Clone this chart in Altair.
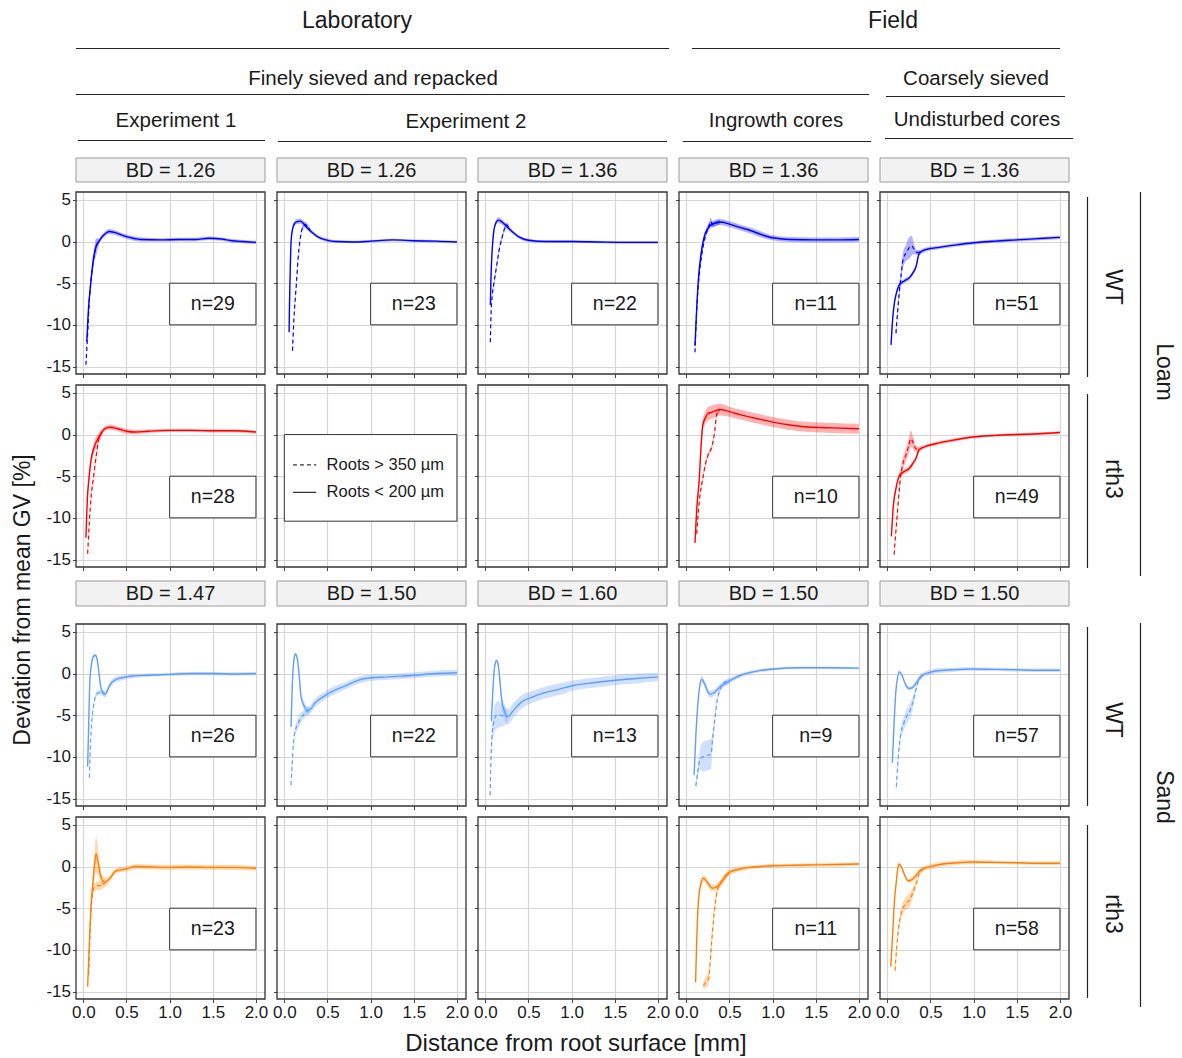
import altair as alt
import pandas as pd

FONT = "Liberation Sans"
INK = "#1a1a1a"
FRAME = "#333333"
GRID = "#d6d6d6"

# ------------------------------------------------------------------ data
X_TICKS = [0.0, 0.5, 1.0, 1.5, 2.0]
Y_TICKS = [-15, -10, -5, 0, 5]
X_DOMAIN = [-0.085, 2.105]
Y_DOMAIN = [-15.9, 5.95]

ROW_COLORS = ["#0000FF", "#FF0000", "#619CFF", "#FF8000"]
BD_TOP = ["BD = 1.26", "BD = 1.26", "BD = 1.36", "BD = 1.36", "BD = 1.36"]
BD_BOTTOM = ["BD = 1.47", "BD = 1.50", "BD = 1.60", "BD = 1.50", "BD = 1.50"]
N_VALUES = [[29, 23, 22, 11, 51],
            [28, None, None, 10, 49],
            [26, 22, 13, 9, 57],
            [23, None, None, 11, 58]]

HEADER_TEXTS = ["Laboratory", "Field", "Finely sieved and repacked", "Coarsely sieved",
                "Experiment 1", "Experiment 2", "Ingrowth cores", "Undisturbed cores"]
ROW_LABELS = ["WT", "rth3", "WT", "rth3"]
SOIL_LABELS = ["Loam", "Sand"]
LEGEND_LABELS = ["Roots > 350 \u00b5m", "Roots < 200 \u00b5m"]
X_TITLE = "Distance from root surface [mm]"
Y_TITLE = "Deviation from mean GV [%]"

# s* = roots < 200 um (solid), d* = roots > 350 um (dashed); e = half width of band
LOAM_WT_EXP1 = dict(
    sx=[0.04, 0.06, 0.086, 0.117, 0.15, 0.18, 0.22, 0.26, 0.30, 0.36, 0.48, 0.67, 0.90, 1.10, 1.30, 1.45, 1.60, 1.72, 1.85, 2.00],
    sy=[-12.0, -8.0, -5.0, -2.1, -0.5, 0.0, 0.6, 1.0, 1.2, 1.1, 0.65, 0.25, 0.2, 0.25, 0.25, 0.4, 0.3, 0.1, 0.0, -0.1],
    se=[0.4, 0.4, 0.4, 0.35, 0.3, 0.3, 0.3, 0.3, 0.3, 0.3, 0.25, 0.25, 0.2, 0.2, 0.2, 0.2, 0.2, 0.2, 0.2, 0.2],
    dx=[0.03, 0.05, 0.07, 0.09, 0.12, 0.15, 0.18],
    dy=[-14.8, -11.0, -7.0, -4.5, -2.0, -0.6, 0.0],
    de=[0.3, 0.4, 0.5, 0.6, 0.8, 1.0, 0.4])
LOAM_WT_EXP2A = dict(
    sx=[0.055, 0.06, 0.068, 0.078, 0.095, 0.12, 0.15, 0.187, 0.22, 0.26, 0.30, 0.40, 0.50, 0.60, 0.80, 1.00, 1.25, 1.50, 1.75, 2.00],
    sy=[-10.9, -7.5, -3.5, 0.0, 1.5, 2.2, 2.4, 2.45, 2.2, 1.7, 1.3, 0.5, 0.15, 0.0, -0.05, 0.05, 0.2, 0.1, 0.05, -0.05],
    se=[0.3, 0.3, 0.3, 0.3, 0.3, 0.3, 0.3, 0.3, 0.3, 0.25, 0.25, 0.2, 0.2, 0.15, 0.15, 0.15, 0.15, 0.15, 0.15, 0.15],
    dx=[0.094, 0.11, 0.14, 0.16, 0.18, 0.207, 0.246, 0.27, 0.30],
    dy=[-13.1, -9.5, -5.0, -2.0, 0.0, 1.55, 2.04, 1.8, 1.3],
    de=[0.3, 0.3, 0.3, 0.3, 0.3, 0.3, 0.3, 0.3, 0.25])
LOAM_WT_EXP2B = dict(
    sx=[0.058, 0.065, 0.075, 0.086, 0.10, 0.12, 0.149, 0.18, 0.22, 0.26, 0.30, 0.40, 0.50, 0.70, 1.00, 1.30, 1.60, 2.00],
    sy=[-7.6, -4.5, -1.8, 0.0, 1.4, 2.2, 2.57, 2.45, 2.1, 1.7, 1.3, 0.5, 0.15, 0.0, 0.0, -0.05, -0.1, -0.1],
    se=[0.3, 0.3, 0.3, 0.3, 0.3, 0.3, 0.35, 0.35, 0.3, 0.3, 0.25, 0.2, 0.2, 0.15, 0.15, 0.15, 0.15, 0.15],
    dx=[0.058, 0.065, 0.08, 0.10, 0.125, 0.149, 0.17, 0.19, 0.215, 0.245, 0.27],
    dy=[-12.1, -9.0, -6.5, -5.0, -3.3, -1.7, -0.5, 0.3, 1.3, 2.0, 1.75],
    de=[0.3, 0.3, 0.3, 0.3, 0.3, 0.3, 0.3, 0.3, 0.3, 0.3, 0.3])
LOAM_WT_INGROWTH = dict(
    sx=[0.10, 0.12, 0.14, 0.17, 0.20, 0.25, 0.30, 0.39, 0.50, 0.62, 0.75, 0.88, 1.00, 1.20, 1.50, 1.75, 2.00],
    sy=[-12.5, -8.0, -4.5, -1.5, 0.3, 1.6, 2.1, 2.35, 2.1, 1.7, 1.3, 0.8, 0.45, 0.25, 0.2, 0.2, 0.25],
    se=[0.4, 0.4, 0.4, 0.4, 0.35, 0.35, 0.35, 0.35, 0.35, 0.35, 0.35, 0.35, 0.3, 0.3, 0.3, 0.3, 0.3],
    dx=[0.10, 0.115, 0.13, 0.15, 0.18, 0.22, 0.26, 0.28, 0.31, 0.35, 0.39],
    dy=[-13.3, -9.5, -6.5, -4.0, -1.5, 0.6, 1.8, 2.4, 2.0, 2.2, 2.35],
    de=[0.3, 0.3, 0.3, 0.3, 0.3, 0.3, 0.4, 0.5, 0.3, 0.3, 0.3])
LOAM_WT_UNDIST = dict(
    sx=[0.043, 0.06, 0.08, 0.10, 0.14, 0.20, 0.26, 0.30, 0.33, 0.37, 0.45, 0.60, 0.80, 1.00, 1.25, 1.50, 1.75, 2.00],
    sy=[-12.4, -9.5, -7.5, -6.4, -5.2, -4.7, -4.3, -3.7, -3.1, -1.4, -0.95, -0.7, -0.4, -0.15, 0.05, 0.2, 0.35, 0.5],
    se=[0.6, 0.5, 0.4, 0.3, 0.3, 0.25, 0.25, 0.25, 0.3, 0.3, 0.25, 0.2, 0.2, 0.2, 0.2, 0.2, 0.2, 0.2],
    dx=[0.10, 0.12, 0.14, 0.16, 0.18, 0.22, 0.25, 0.28, 0.31, 0.34, 0.38],
    dy=[-11.0, -8.3, -6.0, -4.0, -2.3, -1.3, -0.8, -0.5, -0.9, -1.3, -1.3],
    de=[0.5, 0.5, 0.6, 0.8, 0.9, 1.0, 1.3, 1.2, 0.6, 0.3, 0.3])

LOAM_RTH3_EXP1 = dict(
    sx=[0.03, 0.045, 0.066, 0.09, 0.117, 0.136, 0.175, 0.21, 0.25, 0.31, 0.40, 0.50, 0.60, 0.75, 1.00, 1.25, 1.50, 1.75, 2.00],
    sy=[-12.4, -8.0, -5.2, -3.0, -1.8, -1.2, -0.4, 0.2, 0.7, 0.87, 0.7, 0.4, 0.3, 0.4, 0.5, 0.5, 0.45, 0.45, 0.3],
    se=[0.5, 0.5, 0.5, 0.5, 0.6, 0.7, 0.5, 0.4, 0.3, 0.3, 0.3, 0.3, 0.25, 0.2, 0.2, 0.2, 0.2, 0.2, 0.2],
    dx=[0.05, 0.07, 0.09, 0.117, 0.15, 0.175, 0.21],
    dy=[-14.3, -10.5, -7.5, -5.2, -2.5, -0.8, 0.2],
    de=[0.4, 0.4, 0.4, 0.4, 0.4, 0.4, 0.4])
LOAM_RTH3_INGROWTH = dict(
    sx=[0.10, 0.12, 0.15, 0.17, 0.19, 0.22, 0.25, 0.30, 0.39, 0.50, 0.62, 0.74, 0.87, 1.00, 1.20, 1.41, 1.70, 2.00],
    sy=[-13.0, -9.0, -5.3, -1.5, 1.1, 2.0, 2.5, 2.7, 3.0, 2.75, 2.4, 2.1, 1.8, 1.5, 1.15, 0.9, 0.8, 0.7],
    se=[0.3, 0.3, 0.4, 0.6, 0.7, 0.8, 0.8, 0.8, 0.7, 0.6, 0.6, 0.6, 0.6, 0.6, 0.6, 0.6, 0.6, 0.6],
    dx=[0.12, 0.15, 0.19, 0.22, 0.25, 0.30, 0.33, 0.35, 0.39],
    dy=[-11.9, -8.0, -5.3, -3.6, -2.5, -1.3, 0.5, 2.3, 3.0],
    de=[0.3, 0.3, 0.3, 0.3, 0.3, 0.3, 0.3, 0.3, 0.3])
LOAM_RTH3_UNDIST = dict(
    sx=[0.047, 0.07, 0.10, 0.14, 0.20, 0.25, 0.30, 0.33, 0.37, 0.45, 0.56, 0.75, 0.99, 1.25, 1.50, 1.75, 2.00],
    sy=[-12.2, -8.5, -6.5, -4.9, -4.4, -4.1, -3.4, -2.9, -1.8, -1.4, -1.1, -0.7, -0.3, -0.1, 0.0, 0.1, 0.25],
    se=[0.6, 0.4, 0.3, 0.3, 0.3, 0.3, 0.3, 0.3, 0.3, 0.2, 0.2, 0.2, 0.15, 0.15, 0.15, 0.15, 0.15],
    dx=[0.078, 0.10, 0.117, 0.135, 0.155, 0.18, 0.214, 0.245, 0.272, 0.30, 0.33, 0.37],
    dy=[-14.4, -11.5, -9.3, -7.0, -4.9, -3.5, -2.5, -1.5, -0.5, -1.0, -1.7, -1.8],
    de=[0.3, 0.3, 0.4, 0.5, 0.6, 0.7, 0.8, 0.9, 1.0, 0.7, 0.4, 0.3])

SAND_WT_EXP1 = dict(
    sx=[0.05, 0.06, 0.077, 0.10, 0.12, 0.139, 0.16, 0.18, 0.20, 0.22, 0.25, 0.28, 0.30, 0.38, 0.45, 0.57, 0.75, 1.00, 1.25, 1.50, 1.75, 2.00],
    sy=[-11.2, -7.0, -0.7, 1.5, 2.1, 2.2, 1.7, 0.2, -1.5, -2.2, -2.5, -2.0, -1.5, -0.7, -0.5, -0.3, -0.2, -0.1, 0.0, 0.0, -0.05, 0.0],
    se=[0.2, 0.2, 0.2, 0.2, 0.2, 0.2, 0.2, 0.2, 0.3, 0.3, 0.35, 0.4, 0.4, 0.35, 0.3, 0.25, 0.2, 0.2, 0.2, 0.2, 0.2, 0.2],
    dx=[0.07, 0.085, 0.108, 0.13, 0.147, 0.185, 0.22, 0.25],
    dy=[-12.5, -8.0, -4.7, -3.2, -2.5, -2.3, -2.3, -2.5],
    de=[0.3, 0.3, 0.3, 0.3, 0.3, 0.3, 0.3, 0.3])
SAND_WT_EXP2A = dict(
    sx=[0.078, 0.09, 0.105, 0.118, 0.128, 0.15, 0.17, 0.194, 0.23, 0.272, 0.31, 0.35, 0.45, 0.544, 0.70, 0.932, 1.20, 1.51, 1.75, 2.00],
    sy=[-6.4, -2.0, 1.0, 2.1, 2.35, 1.8, 0.0, -2.8, -3.9, -4.45, -4.2, -3.6, -2.8, -2.2, -1.5, -0.6, -0.4, -0.2, 0.0, 0.1],
    se=[0.2, 0.2, 0.2, 0.2, 0.2, 0.2, 0.3, 0.4, 0.5, 0.5, 0.5, 0.5, 0.5, 0.5, 0.45, 0.4, 0.35, 0.35, 0.35, 0.35],
    dx=[0.078, 0.09, 0.105, 0.117, 0.155, 0.194, 0.25, 0.29],
    dy=[-13.4, -11.0, -8.5, -7.3, -6.1, -5.3, -4.7, -4.3],
    de=[0.3, 0.3, 0.4, 0.5, 0.6, 0.6, 0.5, 0.5])
SAND_WT_EXP2B = dict(
    sx=[0.07, 0.09, 0.11, 0.13, 0.15, 0.17, 0.19, 0.22, 0.26, 0.32, 0.42, 0.55, 0.65, 0.85, 1.03, 1.25, 1.51, 1.75, 2.00],
    sy=[-5.7, -1.5, 1.0, 1.55, 1.0, -1.0, -3.2, -4.5, -5.2, -4.5, -3.4, -2.8, -2.4, -1.9, -1.4, -1.1, -0.8, -0.6, -0.4],
    se=[0.3, 0.3, 0.3, 0.3, 0.4, 0.6, 0.8, 0.9, 0.9, 0.9, 0.8, 0.7, 0.7, 0.7, 0.6, 0.6, 0.6, 0.6, 0.5],
    dx=[0.055, 0.065, 0.078, 0.095, 0.11, 0.148, 0.18, 0.207, 0.257],
    dy=[-14.6, -10.5, -7.3, -6.0, -5.3, -4.9, -5.0, -5.1, -5.2],
    de=[0.5, 0.8, 1.2, 1.5, 1.6, 1.6, 1.4, 1.2, 0.9])
SAND_WT_INGROWTH = dict(
    sx=[0.09, 0.11, 0.14, 0.16, 0.178, 0.21, 0.25, 0.277, 0.32, 0.38, 0.45, 0.53, 0.63, 0.73, 0.85, 1.01, 1.33, 1.60, 2.00],
    sy=[-12.2, -7.5, -2.9, -1.2, -0.7, -1.2, -2.2, -2.5, -2.3, -1.7, -1.2, -0.7, -0.2, 0.1, 0.35, 0.55, 0.7, 0.7, 0.65],
    se=[0.3, 0.3, 0.3, 0.3, 0.4, 0.4, 0.4, 0.4, 0.4, 0.4, 0.35, 0.3, 0.25, 0.2, 0.2, 0.15, 0.15, 0.15, 0.15],
    dx=[0.11, 0.13, 0.158, 0.19, 0.218, 0.25, 0.285, 0.305, 0.33, 0.356, 0.385, 0.416, 0.46, 0.50],
    dy=[-13.5, -12.0, -10.3, -10.0, -9.9, -9.8, -9.7, -7.8, -5.5, -3.3, -2.1, -1.3, -1.0, -0.9],
    de=[0.4, 0.8, 1.2, 1.8, 1.8, 1.8, 1.8, 1.0, 0.6, 0.4, 0.4, 0.3, 0.3, 0.3])
SAND_WT_UNDIST = dict(
    sx=[0.058, 0.08, 0.10, 0.12, 0.14, 0.17, 0.21, 0.25, 0.29, 0.33, 0.37, 0.41, 0.48, 0.56, 0.75, 1.00, 1.25, 1.50, 1.75, 2.00],
    sy=[-10.7, -5.5, -2.0, -0.4, 0.2, -0.2, -1.3, -1.8, -1.7, -1.2, -0.6, -0.2, 0.1, 0.3, 0.45, 0.55, 0.5, 0.45, 0.4, 0.4],
    se=[0.2, 0.2, 0.2, 0.2, 0.2, 0.2, 0.2, 0.25, 0.25, 0.3, 0.3, 0.3, 0.3, 0.3, 0.25, 0.2, 0.2, 0.2, 0.2, 0.2],
    dx=[0.104, 0.12, 0.14, 0.155, 0.19, 0.23, 0.27, 0.30, 0.33, 0.37, 0.41],
    dy=[-13.6, -11.0, -8.5, -7.3, -6.0, -5.0, -4.3, -3.3, -2.0, -0.6, -0.2],
    de=[0.4, 0.5, 0.6, 0.7, 0.8, 0.9, 0.9, 0.7, 0.4, 0.3, 0.3])

SAND_RTH3_EXP1 = dict(
    sx=[0.05, 0.065, 0.077, 0.09, 0.11, 0.13, 0.147, 0.17, 0.20, 0.25, 0.30, 0.38, 0.49, 0.61, 0.80, 0.96, 1.20, 1.50, 1.73, 2.00],
    sy=[-14.4, -10.5, -7.4, -4.5, -2.1, 0.3, 1.5, 0.6, -1.1, -1.9, -1.5, -0.5, -0.3, 0.0, -0.05, -0.1, -0.05, -0.1, -0.1, -0.2],
    se=[0.3, 0.4, 0.5, 0.6, 0.9, 1.5, 2.2, 1.6, 0.8, 0.5, 0.4, 0.3, 0.3, 0.3, 0.3, 0.3, 0.3, 0.3, 0.3, 0.3],
    dx=[0.062, 0.075, 0.089, 0.105, 0.127, 0.166, 0.20, 0.25],
    dy=[-13.0, -9.0, -5.4, -3.5, -2.5, -2.3, -2.3, -1.9],
    de=[0.3, 0.3, 0.3, 0.4, 0.5, 0.5, 0.5, 0.4])
SAND_RTH3_INGROWTH = dict(
    sx=[0.107, 0.12, 0.14, 0.17, 0.20, 0.25, 0.30, 0.38, 0.44, 0.50, 0.60, 0.73, 0.85, 1.01, 1.25, 1.50, 1.75, 2.00],
    sy=[-13.9, -9.0, -4.2, -2.0, -1.4, -2.0, -2.6, -2.2, -1.4, -0.7, -0.35, -0.1, 0.0, 0.1, 0.15, 0.2, 0.25, 0.3],
    se=[0.3, 0.3, 0.3, 0.3, 0.4, 0.4, 0.4, 0.4, 0.4, 0.35, 0.3, 0.25, 0.2, 0.2, 0.2, 0.2, 0.2, 0.2],
    dx=[0.198, 0.23, 0.257, 0.29, 0.317, 0.356, 0.396, 0.44, 0.495],
    dy=[-14.3, -13.8, -13.5, -9.5, -6.2, -3.0, -2.0, -1.3, -0.7],
    de=[0.5, 0.7, 0.8, 0.8, 0.6, 0.5, 0.4, 0.3, 0.3])
SAND_RTH3_UNDIST = dict(
    sx=[0.04, 0.06, 0.08, 0.10, 0.12, 0.135, 0.16, 0.20, 0.24, 0.28, 0.33, 0.37, 0.41, 0.50, 0.64, 0.80, 0.99, 1.25, 1.50, 1.75, 2.00],
    sy=[-12.0, -8.5, -4.5, -2.2, -0.3, 0.3, 0.0, -1.0, -1.7, -1.6, -1.1, -0.6, -0.3, 0.0, 0.3, 0.45, 0.55, 0.5, 0.45, 0.4, 0.4],
    se=[0.3, 0.3, 0.3, 0.2, 0.2, 0.2, 0.2, 0.2, 0.25, 0.3, 0.3, 0.3, 0.3, 0.3, 0.25, 0.25, 0.25, 0.2, 0.2, 0.2, 0.2],
    dx=[0.089, 0.11, 0.135, 0.174, 0.22, 0.27, 0.30, 0.33, 0.375, 0.41],
    dy=[-12.5, -9.5, -7.0, -5.2, -4.4, -3.8, -3.0, -2.2, -0.7, -0.3],
    de=[0.4, 0.5, 0.6, 0.7, 0.8, 0.8, 0.6, 0.4, 0.3, 0.3])

PANELS = [
    [LOAM_WT_EXP1, LOAM_WT_EXP2A, LOAM_WT_EXP2B, LOAM_WT_INGROWTH, LOAM_WT_UNDIST],
    [LOAM_RTH3_EXP1, None, None, LOAM_RTH3_INGROWTH, LOAM_RTH3_UNDIST],
    [SAND_WT_EXP1, SAND_WT_EXP2A, SAND_WT_EXP2B, SAND_WT_INGROWTH, SAND_WT_UNDIST],
    [SAND_RTH3_EXP1, None, None, SAND_RTH3_INGROWTH, SAND_RTH3_UNDIST],
]

# ------------------------------------------------------------------ layout
W, H = 189, 182
COL_GAP = 12
ROW_GAP = 11
SPACER_H = 35
ANCHOR = pd.DataFrame({"k": [0]})
LINE_INK = "#222222"

SX = alt.Scale(domain=X_DOMAIN, nice=False, zero=False)
SY = alt.Scale(domain=Y_DOMAIN, nice=False, zero=False)

# header placement, relative to the top-left corner of the first panel
HEADER_POS = [(281, -171, 23), (817, -171, 23), (297, -113, 20.5), (900, -113, 20.5),
              (100, -71, 20.5), (390, -70, 20.5), (700, -71, 20.5), (901, -72, 20.5)]
HEADER_LINES = [(0, 593, -143.5), (616, 984, -143.5), (0, 793, -97.5), (810, 989, -95.5),
                (2, 189, -51.5), (202, 591, -50.5), (607, 795, -50.5), (809, 997, -53.5)]

MINUS_FIX = "replace(datum.label, '\u2212', '-')"


def band_df(xs, ys, es):
    return pd.DataFrame({"x": xs, "y": ys,
                         "lo": [y - e for y, e in zip(ys, es)],
                         "hi": [y + e for y, e in zip(ys, es)]})


def ptext(txt, x, y, size, angle=0, align="center"):
    return alt.Chart(ANCHOR).mark_text(
        text=txt, font=FONT, fontSize=size, color=INK, angle=angle,
        align=align, baseline="middle"
    ).encode(x=alt.value(x), y=alt.value(y))


def pvrule(x, y1, y2):
    return alt.Chart(ANCHOR).mark_rule(color=LINE_INK, strokeWidth=1.2).encode(
        x=alt.value(x), y=alt.value(y1), y2=alt.value(y2))


def phrule(x1, x2, y):
    return alt.Chart(ANCHOR).mark_rule(color=LINE_INK, strokeWidth=1.2).encode(
        x=alt.value(x1), x2=alt.value(x2), y=alt.value(y))


def panel(r, c):
    d = PANELS[r][c]
    color = ROW_COLORS[r]
    common = dict(title=None, grid=True, gridColor=GRID, gridWidth=1.2, domain=False,
                  ticks=True, tickColor="#444444", tickSize=3.5, tickWidth=1,
                  labelFont=FONT, labelFontSize=17, labelColor=INK,
                  labelPadding=2, labelFlush=False, labelOverlap=False,
                  labelExpr=MINUS_FIX)
    ax = alt.Axis(values=X_TICKS, format=".1f", labels=(r == 3), **common)
    ay = alt.Axis(values=Y_TICKS, format="d", labels=(c == 0), **common)

    def X(f):
        return alt.X(f, type="quantitative", scale=SX, axis=ax, title=None)

    def Y(f):
        return alt.Y(f, type="quantitative", scale=SY, axis=ay, title=None)

    def XD(v):
        return alt.XDatum(v, type="quantitative", scale=SX, axis=ax, title=None)

    def YD(v):
        return alt.YDatum(v, type="quantitative", scale=SY, axis=ay, title=None)

    layers = [alt.Chart(ANCHOR).mark_point(opacity=0).encode(x=XD(0.0), y=YD(0.0))]

    if d is not None:
        sdf = band_df(d["sx"], d["sy"], d["se"])
        ddf = band_df(d["dx"], d["dy"], d["de"])
        for df in (sdf, ddf):
            layers.append(alt.Chart(df).mark_area(color=color, opacity=0.3, interpolate="monotone")
                          .encode(x=X("x"), y=Y("lo"), y2="hi"))
        layers.append(alt.Chart(ddf).mark_line(color=color, strokeWidth=1.2, strokeDash=[4, 3],
                                               interpolate="monotone")
                      .encode(x=X("x"), y=Y("y")))
        layers.append(alt.Chart(sdf).mark_line(color=color, strokeWidth=1.4, interpolate="monotone")
                      .encode(x=X("x"), y=Y("y")))
        layers.append(alt.Chart(ANCHOR).mark_rect(fill="white", stroke=FRAME, strokeWidth=1)
                      .encode(x=XD(1.0), x2=alt.datum(2.0), y=YD(-5.0), y2=alt.datum(-10.0)))
        layers.append(alt.Chart(ANCHOR).mark_text(text=f"n={N_VALUES[r][c]}", font=FONT, fontSize=19.5,
                                                  color=INK, baseline="middle")
                      .encode(x=XD(1.5), y=YD(-7.5)))

    # legend panel
    if r == 1 and c == 1:
        layers.append(alt.Chart(ANCHOR).mark_rect(fill="white", stroke=FRAME, strokeWidth=1)
                      .encode(x=XD(0.0), x2=alt.datum(2.0), y=YD(0.0), y2=alt.datum(-10.4)))
        for i, (lab, yy) in enumerate(zip(LEGEND_LABELS, [-3.65, -6.95])):
            dash = [4, 3] if i == 0 else [1, 0]
            layers.append(alt.Chart(ANCHOR).mark_rule(color=FRAME, strokeWidth=1.2, strokeDash=dash)
                          .encode(x=XD(0.1), x2=alt.datum(0.37), y=YD(yy)))
            layers.append(alt.Chart(ANCHOR).mark_text(text=lab, font=FONT, fontSize=16.5, color=INK,
                                                      align="left", baseline="middle")
                          .encode(x=XD(0.49), y=YD(yy)))

    # panel frame
    layers.append(alt.Chart(ANCHOR).mark_rect(fillOpacity=0, stroke=FRAME, strokeWidth=1.3)
                  .encode(x=alt.value(0), x2=alt.value(W), y=alt.value(0), y2=alt.value(H)))

    # header (drawn from the first panel)
    if r == 0 and c == 0:
        for t, (x, y, s) in zip(HEADER_TEXTS, HEADER_POS):
            layers.append(ptext(t, x, y, s))
        for (x1, x2, y) in HEADER_LINES:
            layers.append(phrule(x1, x2, y))

    # strips
    if r in (0, 2):
        top, bot = (-34, -10) if r == 0 else (-43, -18)
        lab = BD_TOP[c] if r == 0 else BD_BOTTOM[c]
        layers.append(alt.Chart(ANCHOR).mark_rect(fill="#f2f2f2", stroke="#9a9a9a", strokeWidth=1)
                      .encode(x=alt.value(0), x2=alt.value(W), y=alt.value(top), y2=alt.value(bot)))
        layers.append(ptext(lab, W / 2, (top + bot) / 2 + 0.5, 20))

    # right side labels
    if c == 4:
        spans = [(5, 185), (9, 183), (3, 182), (8, 181)]
        mids = [95, 94, 96, 97]
        layers.append(pvrule(207.5, spans[r][0], spans[r][1]))
        layers.append(ptext(ROW_LABELS[r], 233, mids[r], 23, angle=90))
        if r == 0:
            layers.append(pvrule(260.5, 0, 384))
            layers.append(ptext(SOIL_LABELS[0], 284, 180, 23, angle=90))
        if r == 2:
            layers.append(pvrule(260.5, -1, 383))
            layers.append(ptext(SOIL_LABELS[1], 284, 173, 23, angle=90))

    # global axis titles
    if r == 2 and c == 0:
        layers.append(ptext(Y_TITLE, -53, -24, 23, angle=270))
    if r == 3 and c == 2:
        layers.append(ptext(X_TITLE, 98, 227, 24))

    return alt.layer(*layers).properties(width=W, height=H)


def spacer():
    return alt.Chart(ANCHOR).mark_point(opacity=0).encode(
        x=alt.value(0), y=alt.value(0)
    ).properties(width=W, height=SPACER_H, view=alt.ViewBackground(stroke="transparent"))


cells = []
for r in range(4):
    if r == 2:
        cells += [spacer() for _ in range(5)]
    cells += [panel(r, c) for c in range(5)]

chart = alt.concat(
    *cells, columns=5, spacing={"row": ROW_GAP, "column": COL_GAP}, bounds="flush"
).properties(
    padding={"left": 11, "top": 9, "right": 4, "bottom": 0},
    background="white",
).configure(font=FONT).configure_view(stroke="transparent")

chart.save("out.html", embed_options={"renderer": "svg", "actions": False})
